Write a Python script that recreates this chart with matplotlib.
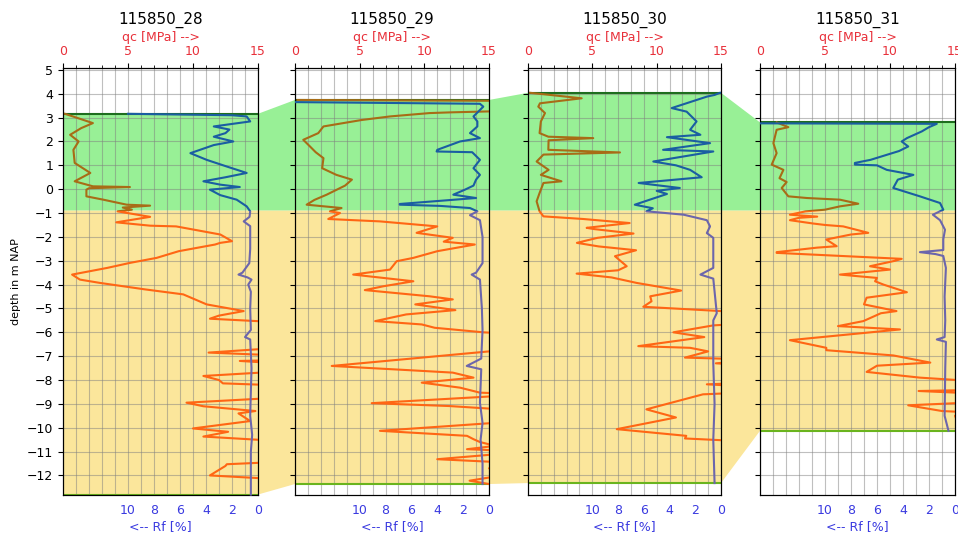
import numpy as np
import matplotlib
matplotlib.use('Agg')
from matplotlib import pyplot as plt
from matplotlib.patches import Polygon, Rectangle
from matplotlib.transforms import blended_transform_factory

# CPT names
names = ['115850_28', '115850_29', '115850_30', '115850_31']

# layer elevations (m NAP)
tops = [3.16, 3.74, 4.04, 2.80]
boundary = -0.9
bottoms = [-12.80, -12.36, -12.32, -10.13]

# qc [MPa] per CPT: depth, value  (values > 15 run off the axis)
qc_28_z = [3.16, 2.77, 2.56, 2.28, 2.0, 1.65, 1.1, 0.68, 0.33, 0.12, 0.09, 0.04, -0.02, -0.3, -0.44, -0.65,
           -0.69, -0.77, -0.86, -0.93, -1.16, -1.39, -1.53, -1.56, -1.9, -2.18, -2.25, -2.32, -2.6, -2.88,
           -3.09, -3.3, -3.58, -3.79, -3.93, -4.2, -4.41, -4.83, -5.11, -5.3, -5.43, -5.53, -5.6, -6.6,
           -6.85, -7.0, -7.15, -7.2, -7.35, -7.6, -7.83, -8.0, -8.14, -8.25, -8.7, -8.95, -9.1, -9.3, -9.4,
           -9.72, -10.03, -10.17, -10.37, -10.6, -11.4, -11.53, -11.6, -12.0, -12.2, -12.8]
qc_28 = [0.15, 2.3, 1.4, 0.55, 1.2, 0.8, 0.9, 2.1, 0.9, 2.3, 5.15, 2.0, 1.8, 1.8, 3.1, 4.9,
         6.7, 4.6, 5.3, 4.2, 6.7, 4.1, 6.7, 8.7, 12.1, 13.0, 12.1, 11.7, 8.9, 7.2,
         5.15, 3.4, 0.7, 1.3, 2.85, 6.3, 9.25, 11.05, 13.9, 12.0, 11.3, 14.9, 18, 18,
         11.2, 18, 18, 13.6, 18, 18, 10.8, 12.0, 12.3, 18, 18, 9.5, 10.8, 14.8, 13.5,
         14.4, 10.0, 12.7, 10.8, 18, 18, 12.6, 12.5, 11.3, 18, 18]

qc_29_z = [3.74, 3.7, 3.3, 3.26, 3.22, 3.19, 3.05, 2.9, 2.63, 2.35, 2.07, 1.79, 1.55, 1.3, 0.88, 0.6, 0.4,
           0.15, -0.23, -0.45, -0.65, -0.79, -0.93, -1.0, -1.25, -1.35, -1.56, -1.83, -2.04, -2.2, -2.32,
           -2.6, -2.88, -3.02, -3.37, -3.58, -3.86, -4.07, -4.23, -4.49, -4.62, -4.83, -5.07, -5.25,
           -5.53, -5.67, -5.81, -6.0, -6.1, -6.65, -7.41, -7.62, -7.69, -7.9, -8.11, -8.32, -8.53, -8.6,
           -8.97, -9.09, -9.3, -9.7, -10.13, -10.34, -10.48, -10.6, -10.76, -10.9, -11.0, -11.32, -11.5,
           -11.7, -12.0, -12.22, -12.36]
qc_29 = [0.2, 18, 18, 15, 12, 10.4, 7.35, 5.15, 2.2, 1.8, 0.64, 1.16, 1.6, 2.2, 2.1, 3.2, 4.4,
         3.87, 2.45, 1.5, 0.9, 3.6, 2.7, 3.48, 2.57, 6.57, 11.0, 9.4, 12.2, 11.5, 13.9,
         11.0, 9.15, 7.86, 7.35, 4.5, 9.15, 6.83, 5.4, 10.4, 12.2, 9.3, 12.4, 8.6,
         6.2, 9.8, 10.8, 14.56, 18, 18, 2.84, 9.9, 12.2, 13.8, 9.8, 12.76, 14.3, 18,
         5.93, 11.9, 18, 18, 6.57, 13.3, 13.8, 14.3, 15.5, 13.3, 18, 11.0, 18,
         15, 16, 13.5, 15]

qc_30_z = [4.04, 3.81, 3.6, 3.46, 3.19, 2.84, 2.35, 2.2, 2.14, 2.05, 1.65, 1.54, 1.45, 1.16, 0.81, 0.6,
           0.33, 0.26, -0.16, -0.51, -0.93, -1.14, -1.25, -1.42, -1.62, -1.67, -1.86, -2.04, -2.25, -2.4,
           -2.56, -2.81, -3.23, -3.4, -3.54, -3.7, -3.93, -4.25, -4.49, -4.7, -4.93, -5.2, -5.6, -5.71,
           -6.0, -6.2, -6.58, -6.65, -6.8, -7.06, -7.15, -7.3, -7.4, -8.1, -8.18, -8.3, -8.5, -8.6,
           -9.23, -9.57, -10.06, -10.34, -10.45, -10.6, -12.32]
qc_30 = [0.16, 4.17, 0.93, 0.8, 1.32, 1.0, 0.9, 1.58, 5.07, 1.6, 1.58, 7.15, 1.2, 0.67, 1.6, 1.0,
         2.6, 1.2, 0.9, 0.67, 0.9, 1.2, 4.3, 7.9, 4.56, 5.1, 8.2, 5.4, 3.8, 5.5,
         8.4, 6.76, 7.67, 7.0, 3.78, 6.5, 8.45, 11.9, 9.5, 9.6, 8.96, 18, 18, 14.4,
         11.3, 13.7, 8.57, 12.6, 14.0, 12.2, 18, 14.6, 18, 18, 13.9, 18, 18, 13.6,
         9.2, 11.5, 6.9, 12.3, 12.2, 18, 18]

qc_31_z = [2.8, 2.6, 2.49, 1.93, 1.51, 1.03, 0.81, 0.46, 0.3, 0.05, -0.3, -0.37, -0.44, -0.61, -0.72,
           -0.86, -0.93, -1.07, -1.15, -1.2, -1.3, -1.44, -1.5, -1.56, -1.83, -1.9, -2.11, -2.39, -2.45,
           -2.64, -2.67, -2.92, -3.0, -3.23, -3.37, -3.58, -3.72, -3.86, -4.0, -4.32, -4.55, -4.83,
           -5.11, -5.2, -5.53, -5.74, -5.88, -6.33, -6.65, -6.75, -6.97, -7.27, -7.4, -7.66, -7.9, -8.1,
           -8.4, -8.46, -8.6, -8.9, -9.06, -9.3, -9.4, -9.5, -10.13]
qc_31 = [1.28, 2.18, 1.28, 1.03, 1.28, 0.9, 1.8, 1.5, 2.05, 1.67, 2.18, 3.6, 6.15, 7.56, 6.15,
         5.0, 3.5, 2.3, 4.4, 3.0, 2.3, 4.1, 5.0, 6.4, 8.33, 7.0, 5.1, 5.9, 4.4,
         1.28, 1.28, 10.9, 10.4, 8.46, 10.0, 6.15, 9.0, 8.85, 9.5, 11.3, 8.2, 8.0,
         10.5, 9.3, 7.95, 6.0, 10.77, 2.3, 5.1, 5.1, 10.26, 13.1, 9.0, 8.2, 12.3, 18,
         18, 12.2, 18, 18, 11.4, 14.0, 18, 15, 15.5]

# Rf [%] per CPT: depth, value
rf_28_z = [3.16, 3.1, 3.05, 2.84, 2.63, 2.5, 2.35, 2.2, 2.0, 1.85, 1.51, 1.23, 0.95, 0.68, 0.5, 0.33,
           0.19, 0.09, -0.02, -0.25, -0.44, -0.72, -0.93, -1.16, -1.35, -1.55, -2.5, -3.1, -3.5, -3.58,
           -3.7, -3.79, -4.0, -4.3, -5.0, -5.9, -6.2, -6.3, -7.5, -8.5, -9.5, -10.3, -11.0, -12.0, -12.8]
rf_28 = [10, 2.0, 0.87, 0.6, 3.4, 2.2, 2.5, 3.4, 1.9, 3.4, 5.2, 3.95, 2.4, 0.87, 2.5, 4.2,
         2.9, 1.4, 3.7, 2.9, 1.64, 0.87, 0.6, 0.65, 1.1, 0.6, 0.6, 0.67, 1.2, 1.5,
         0.8, 0.5, 0.75, 0.55, 0.6, 0.55, 1.0, 0.6, 0.5, 0.55, 0.6, 0.45, 0.55, 0.55, 0.55]

rf_29_z = [3.74, 3.65, 3.58, 3.46, 3.05, 2.84, 2.63, 2.35, 2.14, 2.0, 1.65, 1.58, 1.55, 1.23, 0.88, 0.6,
           0.4, 0.15, -0.02, -0.23, -0.37, -0.62, -0.65, -0.7, -0.79, -0.93, -1.09, -1.3, -2.0, -3.1,
           -3.5, -3.58, -3.79, -5.0, -5.9, -7.1, -7.41, -7.55, -8.95, -9.8, -10.5, -11.5, -12.36]
rf_29 = [18, 15, 0.7, 0.44, 1.2, 0.9, 0.9, 1.47, 0.7, 2.24, 4.0, 4.05, 1.3, 0.7, 1.2, 0.7,
         1.0, 1.2, 1.86, 2.76, 1.0, 6.9, 6.9, 3.8, 1.47, 0.9, 1.47, 0.7, 0.5, 0.5,
         1.0, 1.34, 0.7, 0.55, 0.5, 0.6, 1.72, 0.6, 0.7, 0.5, 0.65, 0.5, 0.5]

rf_30_z = [4.04, 3.95, 3.88, 3.4, 3.25, 2.84, 2.49, 2.28, 2.18, 1.93, 1.65, 1.58, 1.16, 1.0, 0.81, 0.5,
           0.26, 0.05, -0.07, -0.2, -0.65, -0.8, -0.93, -0.97, -1.07, -1.3, -1.56, -1.84, -2.04, -3.3,
           -3.58, -3.75, -5.2, -5.5, -7.3, -9.0, -10.5, -12.32]
rf_30 = [0.08, 0.5, 1.1, 3.83, 2.67, 1.9, 2.4, 1.6, 4.2, 0.85, 4.5, 0.6, 5.26, 3.5, 2.4, 1.5,
         6.4, 3.2, 5.0, 4.2, 6.7, 5.3, 5.8, 4.9, 2.9, 1.1, 0.85, 1.1, 0.6, 0.6,
         1.6, 0.6, 0.33, 0.6, 0.6, 0.5, 0.6, 0.5]

rf_31_z = [2.8, 2.76, 2.74, 2.6, 2.42, 2.14, 2.0, 1.79, 1.6, 1.23, 1.1, 1.03, 1.0, 0.81, 0.6, 0.4, 0.05,
           -0.3, -0.58, -0.86, -1.07, -1.3, -1.7, -2.1, -2.55, -2.64, -2.72, -2.8, -3.3, -4.5, -5.5,
           -6.2, -6.3, -6.4, -7.5, -9.5, -10.13]
rf_31 = [18, 15, 1.4, 2.0, 2.56, 3.7, 4.1, 3.6, 4.3, 6.5, 7.7, 7.7, 6.0, 5.25, 3.2, 4.4, 4.75,
         2.7, 1.15, 0.9, 1.7, 1.15, 0.77, 0.9, 0.9, 2.7, 1.5, 0.9, 0.7, 0.8, 0.75,
         0.8, 1.4, 0.7, 0.75, 0.8, 0.5]

qc_z = [qc_28_z, qc_29_z, qc_30_z, qc_31_z]
qc = [qc_28, qc_29, qc_30, qc_31]
rf_z = [rf_28_z, rf_29_z, rf_30_z, rf_31_z]
rf = [rf_28, rf_29, rf_30, rf_31]

W, H = 958, 536
fig = plt.figure(figsize=(W / 100, H / 100), dpi=100)

# panel pixel extents
px_left = [63, 295, 528, 760]
px_right = [258, 489, 721, 955]
px_top, px_bot = 68, 495
ymin, ymax = -12.82, 5.08

green = '#98f096'
yellow = '#fbe69b'
red = '#e8303a'
blue = '#3a3ae0'


def two_colour(ax, x, z, upper_col, lower_col):
    # same curve, one colour above the layer boundary and another below
    tr = blended_transform_factory(ax.transAxes, ax.transData)
    for col, y0, y1 in [(upper_col, boundary, 10), (lower_col, -20, boundary)]:
        line, = ax.plot(x, z, color=col, lw=1.5, zorder=3)
        line.set_clip_path(Rectangle((0, y0), 1, y1 - y0, transform=tr))


axes = []
for i in range(4):
    l = px_left[i] / W
    w = (px_right[i] - px_left[i]) / W
    b = 1 - px_bot / H
    h = (px_bot - px_top) / H
    ax = fig.add_axes([l, b, w, h])
    ax.set_facecolor('none')
    ax2 = ax.twiny()

    # Rf on the bottom axis, reversed
    ax2.set_xlim(15, 0)
    ax2.xaxis.tick_bottom()
    ax2.xaxis.set_label_position('bottom')
    ax2.set_xticks([10, 8, 6, 4, 2, 0])
    ax2.tick_params(axis='x', top=False, labeltop=False, bottom=False, labelbottom=True,
                    labelcolor=blue, labelsize=9, pad=3)
    ax2.set_xlabel('<-- Rf [%]', color=blue, fontsize=9, labelpad=2)

    # qc on the top axis
    ax.set_xlim(0, 15)
    ax.set_ylim(ymin, ymax)
    ax.set_xticks([0, 5, 10, 15])
    ax.set_xticks(np.arange(0, 16, 1), minor=True)
    ax.xaxis.tick_top()
    ax.xaxis.set_label_position('top')
    ax.tick_params(axis='x', which='both', top=True, labeltop=True, bottom=False, labelbottom=False,
                   labelcolor=red, labelsize=9)
    ax.set_xlabel('qc [MPa] -->', color=red, fontsize=9, labelpad=3)
    ax.set_yticks(np.arange(-12, 6, 1))
    ax.tick_params(axis='y', labelsize=9)
    ax.set_title(names[i], fontsize=11, pad=5)
    ax.grid(True, which='both', color='gray', alpha=0.5, lw=0.8)
    if i == 0:
        ax.set_ylabel('depth in m NAP', fontsize=8)
    else:
        ax.set_yticklabels([])

    two_colour(ax, qc[i], qc_z[i], '#a86c16', '#ff6614')
    two_colour(ax2, rf[i], rf_z[i], '#1a5ea2', '#6c66ac')

    ax.axhline(tops[i], color='#1e6e1e', lw=1.5, zorder=2)
    ax.axhline(bottoms[i], color='#6ab41e', lw=1.5, zorder=2)
    axes.append(ax)

# layer polygons across all panels, in figure coordinates
to_fig = fig.transFigure.inverted()


def fig_pt(ax, xa, z):
    tr = blended_transform_factory(ax.transAxes, ax.transData)
    return to_fig.transform(tr.transform((xa, z)))


def layer_poly(upper, lower, colour):
    pts = []
    for ax, z in zip(axes, upper):
        pts += [fig_pt(ax, 0, z), fig_pt(ax, 1, z)]
    for ax, z in zip(axes[::-1], lower[::-1]):
        pts += [fig_pt(ax, 1, z), fig_pt(ax, 0, z)]
    fig.add_artist(Polygon(pts, closed=True, transform=fig.transFigure,
                           facecolor=colour, edgecolor='none', zorder=-1))


layer_poly(tops, [boundary] * 4, green)
layer_poly([boundary] * 4, bottoms, yellow)

fig.savefig('out.png', dpi=100)
